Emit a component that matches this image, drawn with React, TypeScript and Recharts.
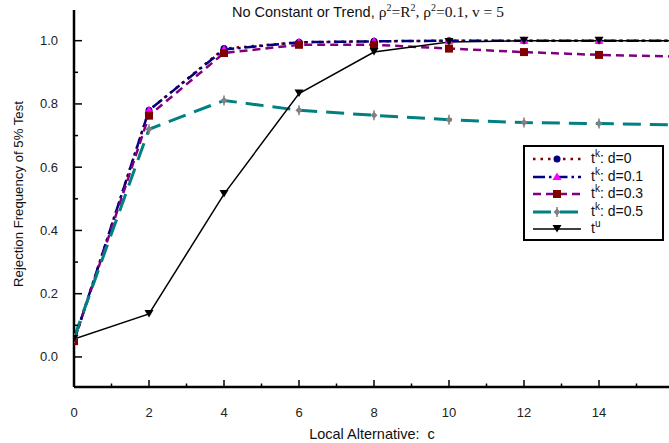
import React from 'react';
import { LineChart, Line, XAxis, YAxis } from 'recharts';

/* ─── Data ────────────────────────────────────────────────────────────────── */

const cValues = [0, 2, 4, 6, 8, 10, 12, 14, 16];
const tkD0 = [0.05, 0.78, 0.975, 0.995, 0.998, 1.0, 1.0, 1.0, 1.0];
const tkD01 = [0.05, 0.78, 0.972, 0.995, 0.998, 1.0, 1.0, 1.0, 1.0];
const tkD03 = [0.05, 0.763, 0.961, 0.987, 0.987, 0.975, 0.964, 0.955, 0.95];
const tkD05 = [0.06, 0.72, 0.811, 0.78, 0.764, 0.75, 0.741, 0.738, 0.734];
const tU = [0.057, 0.136, 0.515, 0.833, 0.964, 0.996, 1.0, 1.0, 1.0];

const xTicks = [0, 1, 2, 3, 4, 5, 6, 7, 8, 9, 10, 11, 12, 13, 14, 15, 16];
const xLabelled = [0, 2, 4, 6, 8, 10, 12, 14];
const yTicks = [0, 0.1, 0.2, 0.3, 0.4, 0.5, 0.6, 0.7, 0.8, 0.9, 1.0];

const data = cValues.map((c, i) => ({
  c, d0: tkD0[i], d01: tkD01[i], d03: tkD03[i], d05: tkD05[i], tu: tU[i],
}));

const FONT = '"Liberation Sans", Arial, sans-serif';
const SERIF = '"Liberation Serif", "Times New Roman", serif';

/* ─── Markers ─────────────────────────────────────────────────────────────── */

type Shape = 'circle' | 'triUp' | 'square' | 'diamond' | 'triDown';

function marker(shape: Shape, fill: string, cx: number, cy: number, key?: string | number) {
  switch (shape) {
    case 'circle':
      return <circle key={key} cx={cx} cy={cy} r={3.5} fill={fill} />;
    case 'triUp':
      return <path key={key} d={`M${cx},${cy - 4.5}L${cx + 4.5},${cy + 3}L${cx - 4.5},${cy + 3}Z`} fill={fill} />;
    case 'square':
      return <rect key={key} x={cx - 4} y={cy - 4} width={8} height={8} fill={fill} />;
    case 'diamond':
      return (
        <g key={key}>
          <path d={`M${cx},${cy - 3.5}L${cx + 3.5},${cy}L${cx},${cy + 3.5}L${cx - 3.5},${cy}Z`} fill={fill} />
          <line x1={cx} y1={cy - 5} x2={cx} y2={cy + 5} stroke={fill} strokeWidth={1.5} />
        </g>
      );
    case 'triDown':
      return <path key={key} d={`M${cx - 4.5},${cy - 4}L${cx + 4.5},${cy - 4}L${cx},${cy + 3.5}Z`} fill={fill} />;
  }
}

const SERIES = [
  { key: 'd0', label: 'd=0', sup: 'k', stroke: '#800000', dash: '2.5 5', width: 2.5, shape: 'circle' as Shape, fill: '#000080' },
  { key: 'd01', label: 'd=0.1', sup: 'k', stroke: '#000080', dash: '12 4 2.5 4', width: 2.5, shape: 'triUp' as Shape, fill: '#ff00ff' },
  { key: 'd03', label: 'd=0.3', sup: 'k', stroke: '#800080', dash: '8 5', width: 2.5, shape: 'square' as Shape, fill: '#800000' },
  { key: 'd05', label: 'd=0.5', sup: 'k', stroke: '#008080', dash: '18 9', width: 3, shape: 'diamond' as Shape, fill: '#808080' },
  { key: 'tu', label: '', sup: 'u', stroke: '#000000', dash: undefined, width: 1.5, shape: 'triDown' as Shape, fill: '#000000' },
];

/* ─── Axis ticks (drawn inward) ───────────────────────────────────────────── */

function XTick(props: any) {
  const { x, y, payload } = props;
  const major = payload.value % 2 === 0;
  return (
    <g>
      <line x1={x} y1={y} x2={x} y2={y - (major ? 7 : 3.5)} stroke="#000" strokeWidth={1.5} />
      {xLabelled.includes(payload.value) && (
        <text x={x} y={y + 29.5} textAnchor="middle" fontSize={13} fontFamily={FONT} fill="#222">
          {payload.value}
        </text>
      )}
    </g>
  );
}

function YTick(props: any) {
  const { x, y, payload } = props;
  const major = Math.round(payload.value * 10) % 2 === 0;
  return (
    <g>
      <line x1={x} y1={y} x2={x + (major ? 8 : 4)} y2={y} stroke="#000" strokeWidth={1.5} />
      {major && (
        <text x={x - 16} y={y + 4.5} textAnchor="end" fontSize={13} fontFamily={FONT} fill="#222">
          {payload.value.toFixed(1)}
        </text>
      )}
    </g>
  );
}

/* ─── Legend ──────────────────────────────────────────────────────────────── */

function LegendBox() {
  return (
    <div style={{
      position: 'absolute', left: 523, top: 145, width: 137, height: 92,
      border: '2px solid #000', background: '#fff', fontFamily: FONT, fontSize: 14,
      boxSizing: 'content-box',
    }}>
      {SERIES.map((s, i) => (
        <div key={s.key} style={{ position: 'absolute', left: 0, top: 2 + i * 17.6, height: 17, width: 137 }}>
          <svg width={60} height={17} style={{ position: 'absolute', left: 6, top: 1 }}>
            <line x1={2} y1={9} x2={50} y2={9} stroke={s.stroke} strokeWidth={s.width} strokeDasharray={s.dash} />
            {marker(s.shape, s.fill, 26, 9)}
          </svg>
          <span style={{ position: 'absolute', left: 66, top: 0, whiteSpace: 'nowrap', color: '#111', lineHeight: '18px' }}>
            t<sup style={{ fontSize: 10, verticalAlign: 'top', position: 'relative', top: -4 }}>{s.sup}</sup>
            {s.label ? `: ${s.label}` : ''}
          </span>
        </div>
      ))}
    </div>
  );
}

/* ─── Chart ───────────────────────────────────────────────────────────────── */

export default function App() {
  return (
    <div style={{ position: 'absolute', left: 0, top: 0, width: 669, height: 443, overflow: 'hidden', background: '#fff' }}>
      <LineChart width={684} height={443} data={data} margin={{ top: 10, right: 10, bottom: 0, left: 0 }}>
        <XAxis dataKey="c" type="number" domain={[0, 16]} ticks={xTicks} height={56}
          axisLine={{ stroke: '#000', strokeWidth: 2.5 }} tickLine={false} tickSize={0} tickMargin={0}
          tick={<XTick />} interval={0} allowDataOverflow />
        <YAxis type="number" domain={[-0.095, 1.097]} ticks={yTicks} width={74}
          axisLine={{ stroke: '#000', strokeWidth: 2.5 }} tickLine={false} tickSize={0} tickMargin={0}
          tick={<YTick />} interval={0} allowDataOverflow />
        {SERIES.map((s) => (
          <Line key={s.key} type="linear" dataKey={s.key} stroke={s.stroke} strokeWidth={s.width}
            strokeDasharray={s.dash} isAnimationActive={false}
            dot={(p: any) => marker(s.shape, s.fill, p.cx, p.cy, `${s.key}-${p.index}`)}
            activeDot={false} />
        ))}
      </LineChart>

      <div style={{ position: 'absolute', left: 232, top: 2, whiteSpace: 'nowrap', fontSize: 14.5, fontFamily: FONT, color: '#111' }}>
        No Constant or Trend,{' '}
        <span style={{ fontFamily: SERIF, fontSize: 15.5 }}>
          ρ<sup style={{ fontSize: 10 }}>2</sup>=R<sup style={{ fontSize: 10 }}>2</sup>, ρ<sup style={{ fontSize: 10 }}>2</sup>=0.1, v = 5
        </span>
      </div>

      <div style={{
        position: 'absolute', left: 18, top: 194, transform: 'translate(-50%, -50%) rotate(-90deg)',
        whiteSpace: 'nowrap', fontSize: 13.2, fontFamily: FONT, color: '#111',
      }}>
        Rejection Frequency of 5% Test
      </div>

      <div style={{
        position: 'absolute', left: 372, top: 434, transform: 'translate(-50%, -50%)',
        whiteSpace: 'nowrap', fontSize: 14.5, fontFamily: FONT, color: '#111',
      }}>
        Local Alternative:&nbsp; c
      </div>

      <LegendBox />
    </div>
  );
}
